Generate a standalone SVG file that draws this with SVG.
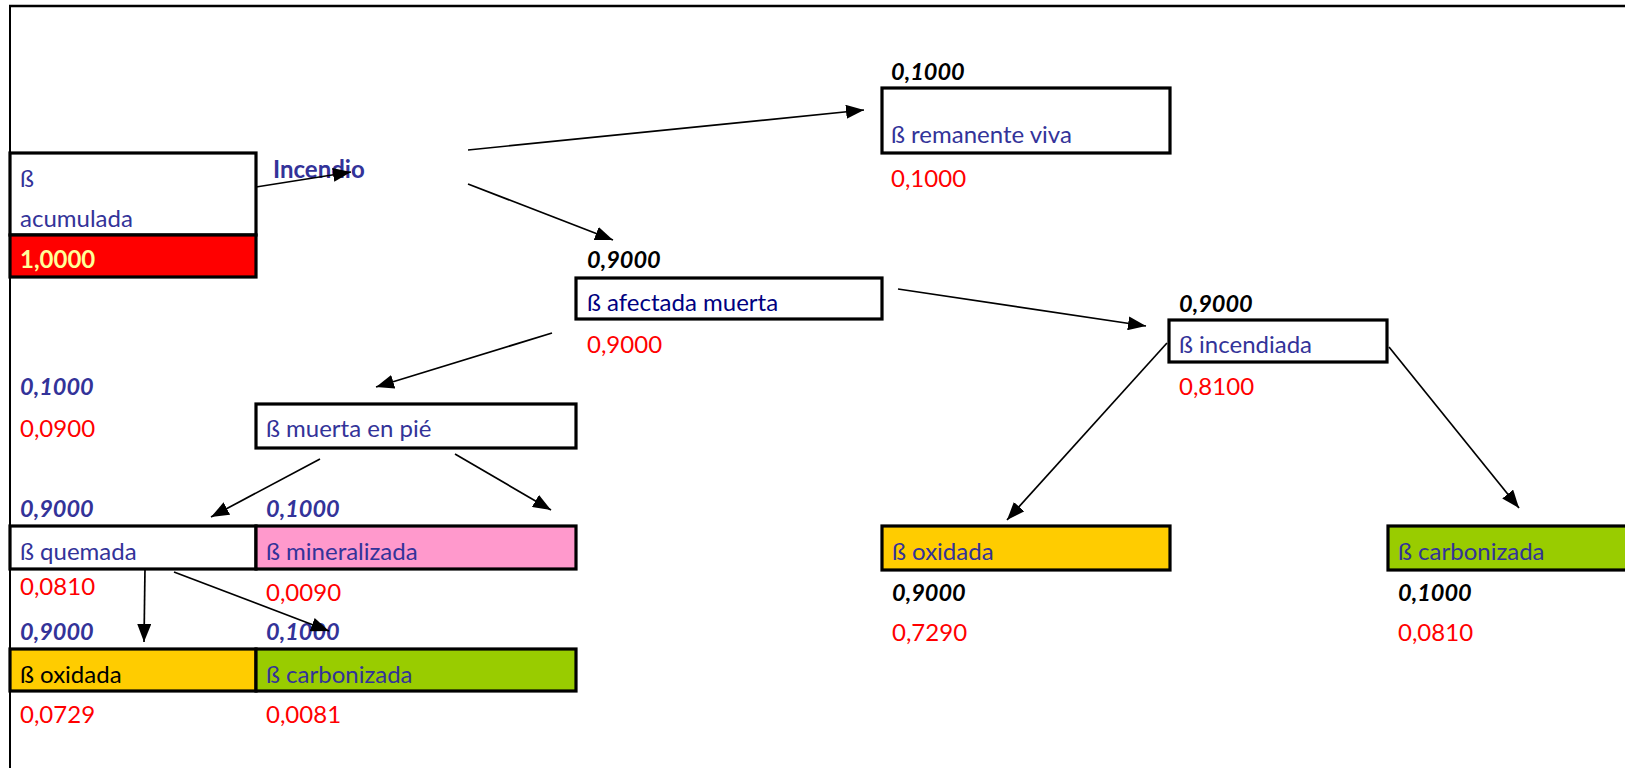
<svg xmlns="http://www.w3.org/2000/svg" width="1625" height="768" viewBox="0 0 1625 768">
<style>
text{font-family:Lato,"Liberation Sans",sans-serif;font-size:24px;}
.b{fill:#333399;}
.nv{fill:#000080;}
.k{fill:#000;}
.r{fill:#FF0000;}
.bi{font-weight:bold;font-style:italic;font-size:23.5px;}
.bb{font-weight:bold;}
.box{stroke:#000;stroke-width:3.2;}
.conn line{stroke:#000;stroke-width:1.7;marker-end:url(#ah);}
</style>
<defs>
<marker id="ah" viewBox="0 0 18 14" refX="18" refY="7" markerWidth="18" markerHeight="14" markerUnits="userSpaceOnUse" orient="auto">
<path d="M0,0 L18,7 L0,14 z" fill="#000"/>
</marker>
</defs>
<rect width="1625" height="768" fill="#fff"/>
<g id="frame">
<line x1="9" y1="6" x2="1625" y2="6" stroke="#000" stroke-width="2.5"/>
<line x1="10" y1="5" x2="10" y2="768" stroke="#000" stroke-width="2"/>
</g>
<g id="n-acumulada">
<rect class="box" x="10" y="153" width="246" height="82" fill="#fff"/>
<rect class="box" x="10" y="235" width="246" height="42" fill="#FF0000"/>
<text class="b" x="20" y="187">ß</text>
<text class="b" x="20" y="227">acumulada</text>
<text class="bb" x="20" y="268" fill="#FFFF99">1,0000</text>
</g>
<g id="n-incendio">
<text class="b bb" x="273" y="178">Incendio</text>
</g>
<g id="n-remanente">
<text class="k bi" x="891" y="80">0,1000</text>
<rect class="box" x="882" y="88" width="288" height="65" fill="#fff"/>
<text class="b" x="891" y="143">ß remanente viva</text>
<text class="r" x="891" y="187">0,1000</text>
</g>
<g id="n-afectada">
<text class="k bi" x="587" y="268">0,9000</text>
<rect class="box" x="576" y="278" width="306" height="41" fill="#fff"/>
<text class="nv" x="587" y="311">ß afectada muerta</text>
<text class="r" x="587" y="353">0,9000</text>
</g>
<g id="n-incendiada">
<text class="k bi" x="1179" y="312">0,9000</text>
<rect class="box" x="1169" y="320" width="218" height="42" fill="#fff"/>
<text class="b" x="1179" y="353">ß incendiada</text>
<text class="r" x="1179" y="395">0,8100</text>
</g>
<g id="n-oxidada-r">
<rect class="box" x="882" y="526" width="288" height="44" fill="#FFCC00"/>
<text class="b" x="892" y="560">ß oxidada</text>
<text class="k bi" x="892" y="601">0,9000</text>
<text class="r" x="892" y="641">0,7290</text>
</g>
<g id="n-carbonizada-r">
<rect class="box" x="1388" y="526" width="245" height="44" fill="#99CC00"/>
<text class="b" x="1398" y="560">ß carbonizada</text>
<text class="k bi" x="1398" y="601">0,1000</text>
<text class="r" x="1398" y="641">0,0810</text>
</g>
<g id="n-muerta">
<text class="b bi" x="20" y="395">0,1000</text>
<text class="r" x="20" y="437">0,0900</text>
<rect class="box" x="256" y="404" width="320" height="44" fill="#fff"/>
<text class="b" x="266" y="437">ß muerta en pié</text>
</g>
<g id="n-quemada">
<text class="b bi" x="20" y="517">0,9000</text>
<rect class="box" x="10" y="526" width="246" height="43" fill="#fff"/>
<text class="b" x="20" y="560">ß quemada</text>
<text class="r" x="20" y="595">0,0810</text>
</g>
<g id="n-mineralizada">
<text class="b bi" x="266" y="517">0,1000</text>
<rect class="box" x="256" y="526" width="320" height="43" fill="#FF99CC"/>
<text class="b" x="266" y="560">ß mineralizada</text>
<text class="r" x="266" y="601">0,0090</text>
</g>
<g id="n-oxidada-l">
<text class="b bi" x="20" y="640">0,9000</text>
<rect class="box" x="10" y="649" width="246" height="42" fill="#FFCC00"/>
<text class="k" x="20" y="683">ß oxidada</text>
<text class="r" x="20" y="723">0,0729</text>
</g>
<g id="n-carbonizada-l">
<text class="b bi" x="266" y="640">0,1000</text>
<rect class="box" x="256" y="649" width="320" height="42" fill="#99CC00"/>
<text class="b" x="266" y="683">ß carbonizada</text>
<text class="r" x="266" y="723">0,0081</text>
</g>
<g id="connectors" class="conn">
<line x1="256" y1="187" x2="351" y2="172"/>
<line x1="468" y1="150" x2="864" y2="110"/>
<line x1="468" y1="184" x2="613" y2="240"/>
<line x1="898" y1="289" x2="1146" y2="326"/>
<line x1="1167" y1="343" x2="1007" y2="520"/>
<line x1="1389" y1="347" x2="1519" y2="508"/>
<line x1="552" y1="333" x2="376" y2="387"/>
<line x1="320" y1="459" x2="211" y2="517"/>
<line x1="455" y1="454" x2="551" y2="510"/>
<line x1="145" y1="568" x2="144" y2="642"/>
<line x1="174" y1="572" x2="329" y2="631"/>
</g>
</svg>
